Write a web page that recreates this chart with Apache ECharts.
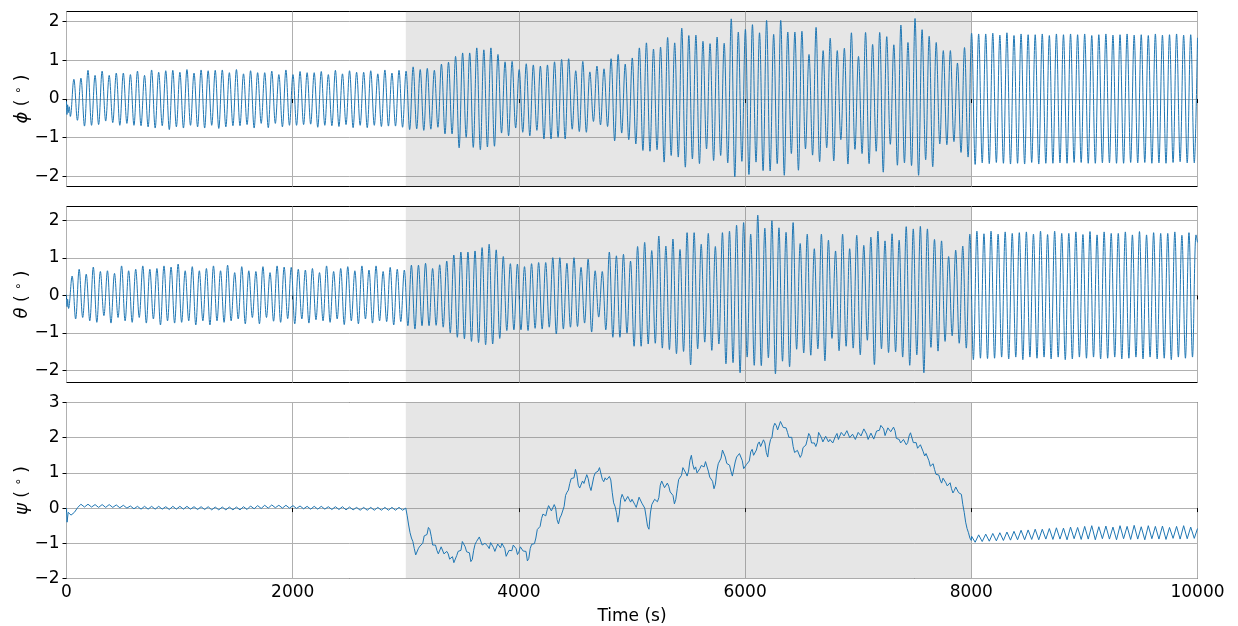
<!DOCTYPE html>
<html>
<head>
<meta charset="utf-8">
<script src="https://cdn.jsdelivr.net/npm/echarts@6/dist/echarts.min.js"></script>
<style>
  html, body { margin: 0; padding: 0; background: #ffffff; }
  #chart { width: 1238px; height: 626px; }
</style>
</head>
<body>
<div id="chart"></div>
<script>
// ---------------------------------------------------------------------------
// Attitude record: roll (phi), pitch (theta) and yaw (psi), in degrees.
// Roll and pitch follow a 62.5 s wave; they are stored as the value at each
// crest and each trough of that wave, cycle by cycle.
// ---------------------------------------------------------------------------
const WAVE_PERIOD = 62.5;          // s
const Y_TICKS_ROLL = [-2, -1, 0, 1, 2];
const Y_TICKS_YAW = [-2, -1, 0, 1, 2, 3];
const DISTURBED_WINDOW = [3000, 8000]; // s, shaded interval

// roll: start-up transient, then crest k at 2.5 + k*T, trough k at 34 + k*T
const phiStartT = [0, 4, 10, 16, 24, 34];
const phiStartV = [-0.05, -0.40, -0.15, -0.35, -0.20, -0.45];
const phiCrestT0 = 2.5, phiTroughT0 = 34;
const phiCrests = [
  0.51, 0.54, 0.74, 0.61, 0.72, 0.61, 0.67, 0.67, 0.63, 0.72, 0.61, 0.75, 0.69, 0.73, 0.74, 0.69, 0.76, 0.67, 0.75, 0.73,
  0.74, 0.75, 0.68, 0.76, 0.65, 0.73, 0.68, 0.68, 0.72, 0.63, 0.75, 0.63, 0.71, 0.68, 0.68, 0.71, 0.63, 0.74, 0.65, 0.73,
  0.69, 0.69, 0.73, 0.65, 0.75, 0.67, 0.74, 0.72, 0.83, 0.76, 0.79, 0.74, 0.90, 0.95, 1.10, 1.19, 1.19, 1.32, 1.27, 1.32,
  1.15, 0.96, 0.97, 0.76, 0.91, 0.88, 0.85, 0.88, 0.96, 1.02, 1.04, 0.73, 0.97, 0.70, 0.85, 0.78, 1.04, 1.15, 0.90, 1.06,
  1.32, 1.45, 1.29, 1.34, 1.59, 1.45, 1.83, 1.64, 1.65, 1.49, 1.43, 1.60, 1.44, 2.07, 1.73, 1.80, 1.92, 1.71, 2.03, 1.67,
  2.03, 1.73, 1.73, 1.75, 1.15, 1.85, 1.25, 1.57, 1.25, 1.31, 1.71, 1.10, 1.72, 1.41, 1.72, 1.61, 1.40, 1.91, 1.46, 2.08,
  1.79, 1.62, 1.46, 1.25, 1.25, 0.93, 1.33, 1.70, 1.68, 1.68, 1.70, 1.65, 1.71, 1.64, 1.68, 1.66, 1.66, 1.68, 1.64, 1.68,
  1.66, 1.68, 1.66, 1.68, 1.64, 1.66, 1.68, 1.65, 1.66, 1.68, 1.65, 1.66, 1.64, 1.68, 1.65, 1.66, 1.68, 1.65, 1.66
];
const phiTroughs = [
  -0.55, -0.70, -0.68, -0.66, -0.57, -0.61, -0.68, -0.63, -0.68, -0.69, -0.72, -0.75, -0.69, -0.79, -0.72, -0.75, -0.68, -0.72, -0.75, -0.68,
  -0.76, -0.72, -0.69, -0.69, -0.66, -0.75, -0.63, -0.74, -0.63, -0.72, -0.68, -0.68, -0.66, -0.65, -0.73, -0.68, -0.69, -0.71, -0.66, -0.74,
  -0.68, -0.74, -0.68, -0.71, -0.70, -0.70, -0.73, -0.79, -0.77, -0.81, -0.78, -0.73, -0.90, -0.90, -1.26, -0.99, -1.25, -1.31, -1.24, -1.22,
  -0.88, -0.95, -0.75, -0.86, -0.95, -0.81, -1.03, -1.03, -0.99, -1.03, -0.78, -0.84, -0.86, -0.58, -0.67, -0.71, -1.08, -0.88, -1.05, -1.16,
  -1.33, -1.35, -1.31, -1.63, -1.46, -1.50, -1.76, -1.55, -1.67, -1.29, -1.59, -1.46, -1.65, -2.01, -1.61, -1.95, -1.63, -1.85, -1.86, -1.67,
  -1.97, -1.41, -1.84, -1.29, -1.45, -1.62, -1.26, -1.60, -1.05, -1.68, -1.30, -1.41, -1.67, -1.35, -1.89, -1.17, -1.71, -1.65, -1.72, -1.97,
  -1.57, -1.75, -1.16, -1.18, -1.10, -1.38, -1.50, -1.69, -1.65, -1.67, -1.64, -1.66, -1.68, -1.66, -1.68, -1.64, -1.68, -1.66, -1.66, -1.65,
  -1.66, -1.64, -1.64, -1.66, -1.66, -1.65, -1.65, -1.66, -1.66, -1.64, -1.65, -1.64, -1.66, -1.65, -1.66, -1.64, -1.62, -1.65, -1.65
];
const phiEndT = [10000];
const phiEndV = [1.58];

// pitch: crest k at -13 + k*T, trough k at 18.25 + k*T
const thetaStartT = [0, 5, 10, 18.25];
const thetaStartV = [0.02, -0.30, -0.10, -0.35];
const thetaCrestT0 = -13, thetaTroughT0 = 18.25;
const thetaCrests = [
  0.52, 0.70, 0.57, 0.76, 0.64, 0.66, 0.59, 0.79, 0.66, 0.70, 0.79, 0.70, 0.72, 0.79, 0.76, 0.84, 0.66, 0.77, 0.66, 0.72,
  0.79, 0.66, 0.81, 0.61, 0.77, 0.66, 0.64, 0.77, 0.61, 0.79, 0.76, 0.75, 0.70, 0.68, 0.72, 0.61, 0.79, 0.64, 0.72, 0.77,
  0.66, 0.79, 0.68, 0.79, 0.64, 0.75, 0.70, 0.68, 0.81, 0.81, 0.86, 0.72, 0.82, 0.92, 1.08, 1.16, 1.16, 1.19, 1.28, 1.37,
  1.22, 1.04, 0.85, 0.84, 0.77, 0.85, 0.88, 0.88, 1.01, 1.01, 0.86, 1.01, 0.75, 0.97, 0.66, 0.64, 1.16, 1.06, 1.10, 0.92,
  1.31, 1.42, 1.20, 1.59, 1.32, 1.51, 1.23, 1.68, 1.68, 1.37, 1.66, 1.31, 1.68, 1.72, 1.88, 1.95, 1.64, 2.15, 1.80, 2.00,
  1.81, 1.69, 1.95, 1.39, 1.64, 1.25, 1.64, 1.48, 1.19, 1.64, 1.25, 1.61, 1.34, 1.56, 1.72, 1.46, 1.65, 1.48, 1.84, 1.78,
  1.85, 1.78, 1.50, 1.46, 1.04, 1.21, 1.32, 1.64, 1.72, 1.65, 1.72, 1.64, 1.70, 1.66, 1.68, 1.70, 1.64, 1.72, 1.63, 1.72,
  1.66, 1.66, 1.70, 1.63, 1.71, 1.62, 1.70, 1.66, 1.66, 1.70, 1.62, 1.71, 1.62, 1.68, 1.66, 1.66, 1.70, 1.61, 1.68, 1.62
];
const thetaTroughs = [
  -0.63, -0.59, -0.68, -0.72, -0.54, -0.74, -0.59, -0.68, -0.72, -0.59, -0.74, -0.63, -0.79, -0.68, -0.74, -0.72, -0.68, -0.79, -0.68, -0.79,
  -0.68, -0.72, -0.68, -0.63, -0.76, -0.59, -0.76, -0.59, -0.69, -0.72, -0.62, -0.76, -0.63, -0.74, -0.65, -0.68, -0.72, -0.63, -0.78, -0.68,
  -0.76, -0.63, -0.74, -0.68, -0.70, -0.79, -0.70, -0.81, -0.90, -0.81, -0.81, -0.80, -0.85, -1.00, -1.12, -1.16, -1.23, -1.26, -1.32, -1.30,
  -1.15, -0.94, -0.92, -0.92, -0.94, -0.88, -0.90, -0.85, -1.03, -0.90, -0.85, -0.83, -0.74, -0.98, -0.58, -0.92, -1.12, -1.12, -1.01, -1.36,
  -1.36, -1.30, -1.28, -1.41, -1.45, -1.56, -1.50, -1.86, -1.43, -1.25, -1.47, -1.30, -1.83, -1.80, -2.07, -1.65, -1.87, -1.88, -1.67, -2.10,
  -1.76, -1.91, -1.44, -1.54, -1.60, -1.43, -1.75, -1.15, -1.48, -1.36, -1.41, -1.59, -1.20, -1.85, -1.43, -1.53, -1.51, -1.65, -1.87, -1.59,
  -2.07, -1.39, -1.49, -1.23, -1.08, -1.28, -1.41, -1.72, -1.68, -1.69, -1.68, -1.65, -1.70, -1.65, -1.72, -1.65, -1.68, -1.65, -1.70, -1.65,
  -1.72, -1.70, -1.65, -1.68, -1.65, -1.70, -1.68, -1.65, -1.70, -1.68, -1.65, -1.70, -1.65, -1.70, -1.68, -1.72, -1.65, -1.68, -1.65
];
const thetaEndT = [10000];
const thetaEndV = [1.42];

// yaw: small ripple before the window (crest / trough per wave cycle, same
// timing as roll), a wandering drift inside it sampled every 12.5 s, and a
// ripple around -0.75 after it
const psiStartT = [0, 5, 15, 40, 70, 100];
const psiStartV = [0.00, -0.40, -0.12, -0.20, -0.12, 0.02];
const psiEarlyHigh = [
  0.11, 0.11, 0.10, 0.10, 0.10, 0.09, 0.08, 0.06, 0.05, 0.05, 0.05, 0.05, 0.04, 0.05, 0.05, 0.05, 0.04, 0.04, 0.04, 0.03,
  0.03, 0.03, 0.03, 0.04, 0.06, 0.07, 0.08, 0.09, 0.08, 0.08, 0.07, 0.06, 0.05, 0.05, 0.05, 0.04, 0.04, 0.04, 0.03, 0.02,
  0.02, 0.02, 0.02, 0.02, 0.02, 0.02
];
const psiEarlyLow = [
  0.03, 0.03, 0.02, 0.02, 0.02, 0.01, 0.00, -0.02, -0.03, -0.03, -0.03, -0.03, -0.04, -0.03, -0.03, -0.03, -0.04, -0.04, -0.05, -0.05,
  -0.05, -0.05, -0.05, -0.04, -0.02, -0.01, 0.00, 0.01, 0.00, 0.00, -0.01, -0.02, -0.03, -0.03, -0.03, -0.04, -0.04, -0.05, -0.05, -0.06,
  -0.06, -0.06, -0.06, -0.06, -0.06, -0.06
];
const PSI_MID_STEP = 12.5; // s, one row below = 250 s
const psiMid = [
   0.00, -0.22, -0.48, -0.70, -0.85, -0.95, -1.15, -1.33, -1.30, -1.14, -1.08, -1.13, -1.00, -0.79, -0.80, -0.75, -0.55, -0.61, -0.80, -1.05,
  -1.05, -1.05, -1.20, -1.30, -1.28, -1.10, -1.15, -1.30, -1.25, -1.23, -1.30, -1.45, -1.42, -1.38, -1.55, -1.52, -1.35, -1.23, -1.22, -1.20,
  -0.95, -0.95, -1.10, -1.24, -1.25, -1.27, -1.52, -1.46, -1.20, -1.03, -0.95, -0.97, -0.82, -0.83, -1.05, -1.10, -1.00, -0.98, -1.08, -1.15,
  -0.98, -0.97, -1.12, -1.23, -1.22, -1.02, -1.05, -1.13, -1.00, -1.03, -1.15, -1.37, -1.40, -1.20, -1.22, -1.21, -1.05, -1.04, -1.15, -1.32,
  -1.25, -1.10, -1.12, -1.22, -1.20, -1.23, -1.50, -1.43, -1.15, -1.03, -1.00, -1.01, -0.85, -0.61, -0.60, -0.52, -0.30, -0.17, -0.15, -0.22,
  -0.05,  0.07,  0.02, -0.08, -0.05,  0.10,  0.00, -0.33, -0.45, -0.28, -0.20, -0.17,  0.05,  0.36,  0.45,  0.51,  0.70,  0.84,  0.85,  0.86,
   1.10,  0.95,  0.65,  0.57,  0.60,  0.77,  0.70,  0.73,  0.95,  0.84,  0.62,  0.50,  0.55,  0.89,  1.00,  0.96,  1.05,  1.15,  1.12,  0.82,
   0.75,  0.86,  0.80,  0.79,  0.90,  0.80,  0.45,  0.15,  0.05, -0.13, -0.40, -0.17,  0.25,  0.39,  0.30,  0.19,  0.22,  0.33,  0.32,  0.17,
   0.25,  0.26,  0.10,  0.02,  0.05,  0.31,  0.32,  0.14,  0.15,  0.00, -0.25, -0.52, -0.60, -0.14,  0.10,  0.11,  0.25,  0.28,  0.18,  0.30,
   0.65,  0.77,  0.72,  0.58,  0.55,  0.71,  0.62,  0.46,  0.50,  0.36,  0.12,  0.25,  0.55,  0.81,  0.85,  0.93,  1.15,  1.14,  1.00,  0.91,
   1.05,  1.36,  1.50,  1.24,  1.10,  1.17,  1.00,  0.96,  1.12,  1.21,  1.20,  1.17,  1.32,  1.30,  1.05,  0.88,  0.85,  0.76,  0.55,  0.68,
   1.05,  1.26,  1.30,  1.42,  1.65,  1.67,  1.45,  1.27,  1.28,  1.22,  1.05,  0.91,  0.95,  1.31,  1.45,  1.43,  1.55,  1.51,  1.35,  1.12,
   1.12,  1.24,  1.20,  1.34,  1.60,  1.67,  1.50,  1.48,  1.65,  1.82,  1.88,  1.75,  1.80,  1.94,  1.85,  1.58,  1.45,  1.76,  1.95,  2.01,
   2.30,  2.41,  2.35,  2.22,  2.20,  2.46,  2.48,  2.29,  2.30,  2.28,  2.15,  2.01,  2.05,  2.01,  1.75,  1.58,  1.55,  1.64,  1.60,  1.44,
   1.52,  1.72,  1.75,  1.79,  1.95,  2.12,  2.05,  1.85,  1.85,  1.85,  1.75,  1.86,  2.15,  2.19,  2.00,  1.88,  1.90,  2.04,  2.05,  1.88,
   1.95,  1.98,  1.85,  1.89,  2.05,  2.12,  1.95,  1.95,  2.15,  2.15,  2.05,  2.04,  2.20,  2.21,  2.00,  1.98,  2.10,  2.09,  1.95,  1.93,
   2.15,  2.18,  2.05,  2.09,  2.25,  2.30,  2.10,  1.95,  2.00,  2.13,  2.15,  1.96,  1.95,  2.19,  2.20,  2.21,  2.35,  2.36,  2.25,  2.06,
   2.10,  2.28,  2.30,  2.17,  2.15,  2.30,  2.20,  1.98,  1.95,  1.95,  1.85,  1.81,  1.95,  1.99,  1.80,  1.86,  2.05,  2.14,  2.10,  1.86,
   1.85,  1.86,  1.70,  1.69,  1.80,  1.82,  1.60,  1.48,  1.55,  1.50,  1.35,  1.19,  1.20,  1.26,  1.10,  0.96,  0.95,  0.94,  0.80,  0.71,
   0.85,  0.87,  0.72,  0.63,  0.65,  0.72,  0.55,  0.43,  0.50,  0.60,  0.60,  0.44,  0.45,  0.39,  0.10, -0.12, -0.40, -0.58, -0.70, -0.85,
  -0.92
];
const psiLateHigh = [
  -0.80, -0.76, -0.74, -0.72, -0.70, -0.68, -0.66, -0.63, -0.62, -0.60, -0.60, -0.58, -0.56, -0.57, -0.54, -0.55, -0.52, -0.50, -0.53, -0.51,
  -0.54, -0.50, -0.52, -0.49, -0.53, -0.50, -0.52, -0.51, -0.55, -0.52, -0.50, -0.54
];
const psiLateLow = [
  -0.97, -0.95, -0.94, -0.93, -0.92, -0.91, -0.90, -0.90, -0.89, -0.90, -0.88, -0.89, -0.88, -0.90, -0.87, -0.89, -0.88, -0.90, -0.87, -0.88,
  -0.90, -0.87, -0.89, -0.88, -0.90, -0.87, -0.88, -0.89, -0.86, -0.88, -0.87, -0.86
];

// ---------------------------------------------------------------------------
// assemble [t, value] pairs
// ---------------------------------------------------------------------------
function zipPairs(ts, vs) { return ts.map((t, i) => [t, vs[i]]); }

// crests[i] sits at crestT0 + k*T, troughs[i] at troughT0 + k*T, k = firstCycle + i
function wavePairs(crestT0, crests, troughT0, troughs, firstCycle) {
  const pts = [];
  const n = Math.max(crests.length, troughs.length);
  for (let i = 0; i < n; i++) {
    const k = firstCycle + i;
    if (i < crests.length) pts.push([crestT0 + k * WAVE_PERIOD, crests[i]]);
    if (i < troughs.length) pts.push([troughT0 + k * WAVE_PERIOD, troughs[i]]);
  }
  return pts.sort((a, b) => a[0] - b[0]);
}

const phiData = zipPairs(phiStartT, phiStartV)
  .concat(wavePairs(phiCrestT0, phiCrests, phiTroughT0, phiTroughs, 1))
  .concat(zipPairs(phiEndT, phiEndV));

const thetaData = zipPairs(thetaStartT, thetaStartV)
  .concat(wavePairs(thetaCrestT0, thetaCrests, thetaTroughT0, thetaTroughs, 1))
  .concat(zipPairs(thetaEndT, thetaEndV));

// yaw ripple cycles: early ones from cycle 2, late ones from cycle 128
const psiData = zipPairs(psiStartT, psiStartV)
  .concat(wavePairs(phiCrestT0, psiEarlyHigh, phiTroughT0, psiEarlyLow, 2))
  .concat(psiMid.map((v, i) => [DISTURBED_WINDOW[0] + i * PSI_MID_STEP, v]))
  .concat(wavePairs(phiCrestT0, psiLateHigh, phiTroughT0, psiLateLow, 128))
  .concat([[10000, -0.58]]);

// ---------------------------------------------------------------------------
// layout and styling
// ---------------------------------------------------------------------------
const LEFT = 66.5, WIDTH = 1131;
const PANELS = [
  { top: 11.5, height: 175 },
  { top: 206.5, height: 176 },
  { top: 402.5, height: 176 }
];
const FONT = 'DejaVu Sans';
const LINE_BLUE = '#1f77b4';
const GRID_GREY = '#b0b0b0';
const fmtMinus = v => String(v).replace('-', '\u2212');

const grids = PANELS.map(p => ({
  left: LEFT, top: p.top, width: WIDTH, height: p.height,
  outerBoundsMode: 'none', containLabel: false,
  show: true, borderColor: '#000', borderWidth: 1, backgroundColor: '#fff'
}));

const xAxes = PANELS.map((p, i) => ({
  type: 'value', gridIndex: i, min: 0, max: 10000, interval: 2000,
  axisLine: { show: false },
  axisTick: { show: true, length: 4, lineStyle: { color: '#000', width: 1 } },
  axisLabel: {
    show: i === 2, fontFamily: FONT, fontSize: 17, color: '#000', margin: 6,
    formatter: v => fmtMinus(v)
  },
  splitLine: { show: true, lineStyle: { color: GRID_GREY, width: 1 } },
  name: i === 2 ? 'Time (s)' : '',
  nameLocation: 'middle', nameGap: 30, nameMoveOverlap: false,
  nameTextStyle: { fontFamily: FONT, fontSize: 17, color: '#000' }
}));

function yAxis(i, min, max, ticks, symbol) {
  return {
    type: 'value', gridIndex: i, min: min, max: max,
    axisLine: { show: false },
    axisTick: { show: true, length: 4, customValues: ticks, lineStyle: { color: '#000', width: 1 } },
    axisLabel: {
      show: true, customValues: ticks, fontFamily: FONT, fontSize: 17, color: '#000', margin: 7,
      formatter: v => fmtMinus(v)
    },
    splitLine: { show: true, lineStyle: { color: GRID_GREY, width: 1 } },
    name: '{g|' + symbol + '} ( {d|\u2218} )',
    nameLocation: 'middle', nameGap: 34, nameRotate: 90, nameMoveOverlap: false,
    nameTextStyle: {
      fontFamily: FONT, fontSize: 17, color: '#000',
      rich: {
        g: { fontFamily: 'DejaVu Sans', fontStyle: 'italic', fontSize: 18, color: '#000' },
        d: { fontFamily: FONT, fontSize: 12, color: '#000', padding: [0, 0, 8, 0] }
      }
    }
  };
}

const yAxes = [
  yAxis(0, -2.26, 2.26, Y_TICKS_ROLL, '\u03d5'),
  yAxis(1, -2.33, 2.38, Y_TICKS_ROLL, '\u03b8'),
  yAxis(2, -2, 3, Y_TICKS_YAW, '\u03c8')
];
yAxes[2].interval = 1;

const shadeSeries = PANELS.map((p, i) => ({
  type: 'line', xAxisIndex: i, yAxisIndex: i, data: [], z: 1, silent: true,
  markArea: {
    silent: true,
    itemStyle: { color: 'rgba(128,128,128,0.2)' },
    data: [[{ xAxis: DISTURBED_WINDOW[0] }, { xAxis: DISTURBED_WINDOW[1] }]]
  }
}));

const lineStyle = { color: LINE_BLUE, width: 1 };
const dataSeries = [
  { type: 'line', xAxisIndex: 0, yAxisIndex: 0, data: phiData, smooth: 0.36, showSymbol: false, lineStyle, z: 3, silent: true },
  { type: 'line', xAxisIndex: 1, yAxisIndex: 1, data: thetaData, smooth: 0.36, showSymbol: false, lineStyle, z: 3, silent: true },
  { type: 'line', xAxisIndex: 2, yAxisIndex: 2, data: psiData, showSymbol: false, lineStyle, z: 3, silent: true }
];

const chart = echarts.init(document.getElementById('chart'), null, { renderer: 'canvas' });
chart.setOption({
  animation: false,
  backgroundColor: '#ffffff',
  grid: grids,
  xAxis: xAxes,
  yAxis: yAxes,
  series: shadeSeries.concat(dataSeries)
});
</script>
</body>
</html>
